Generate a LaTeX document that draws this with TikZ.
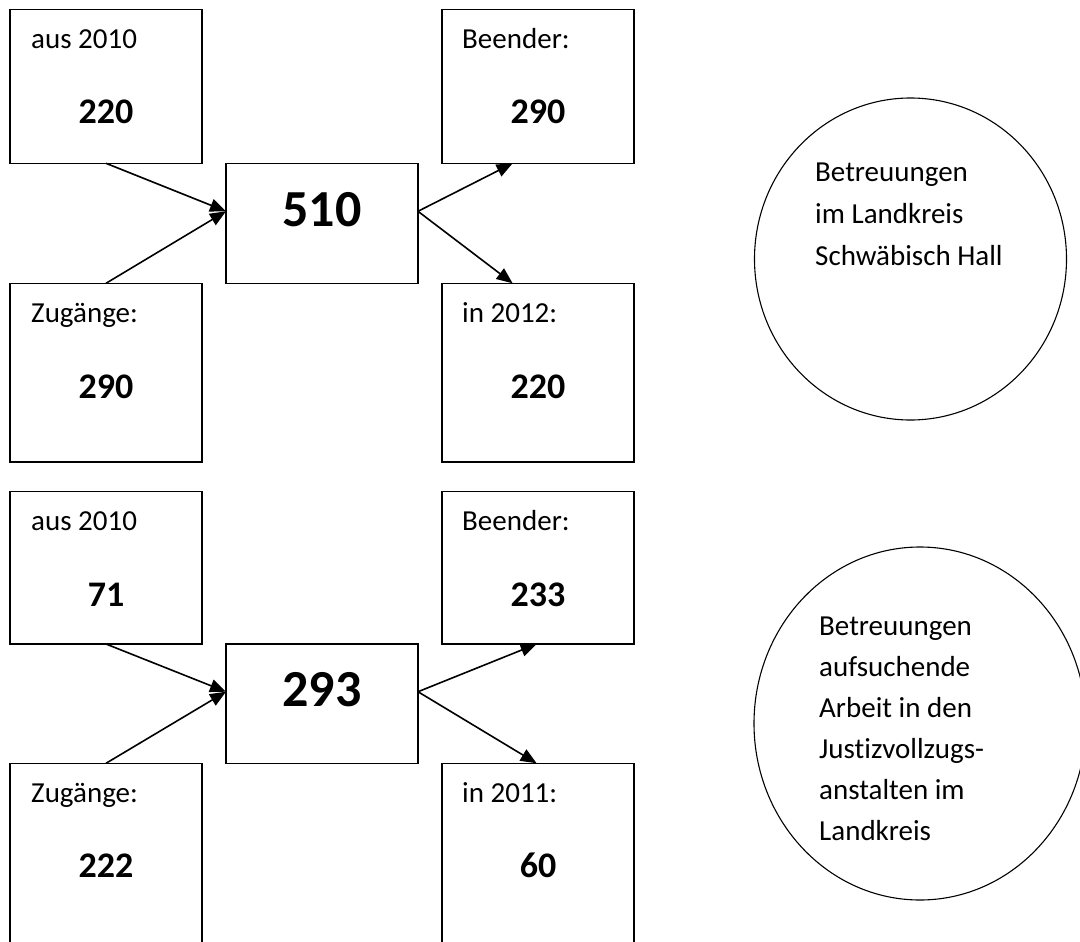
\documentclass[tikz,border=0pt]{standalone}
\usepackage{fontspec}
\setmainfont{Carlito}[Ligatures={NoCommon}]
\usetikzlibrary{arrows.meta,calc,shapes.geometric}
\begin{document}
\begin{tikzpicture}[x=1pt,y=-1pt,
  box/.style={draw, line width=1.5pt, inner sep=0pt, outer sep=0pt, minimum width=192pt, anchor=north west},
  lbl/.style={anchor=base west, inner sep=0pt, font=\fontsize{29}{35}\selectfont},
  num/.style={anchor=base, inner sep=0pt, font=\fontsize{36}{43}\selectfont\bfseries},
  big/.style={anchor=base, inner sep=0pt, font=\fontsize{52}{62}\selectfont\bfseries},
  arr/.style={line width=1.6pt, -{Triangle[length=16pt,width=13pt]}},
  ring/.style={draw, ellipse, line width=1.1pt, inner sep=0pt, outer sep=0pt},
  ctext/.style={anchor=base west, inner sep=0pt, font=\fontsize{29}{42}\selectfont}]
\useasboundingbox (0,0) rectangle (1080,942);
\clip (0,0) rectangle (1080,942);

% ---------- group 1 ----------
\node[box, minimum height=154pt] (tl1) at (10,9.3) {};
\node[box, minimum height=154pt] (tr1) at (442,9.3) {};
\node[box, minimum height=120pt] (c1) at (226,163.3) {};
\node[box, minimum height=178.7pt] (bl1) at (10,283.3) {};
\node[box, minimum height=178.7pt] (br1) at (442,283.3) {};

\node[lbl] (tl1l) at (31,48.3) {aus 2010};
\node[num] (tl1n) at (106,124) {220};
\node[lbl] (tr1l) at (462,48.3) {Beender:};
\node[num] (tr1n) at (538,124) {290};
\node[big] (c1n) at (322,226) {510};
\node[lbl] (bl1l) at (31,322) {Zugänge:};
\node[num] (bl1n) at (106,398) {290};
\node[lbl] (br1l) at (462,322) {in 2012:};
\node[num] (br1n) at (538,398) {220};

\coordinate (c1in) at ($(c1.north west)!0.4!(c1.south west)$);
\coordinate (c1out) at ($(c1.north east)!0.4!(c1.south east)$);
\coordinate (tr1in) at ($(tr1.south west)!0.368!(tr1.south east)$);
\coordinate (br1in) at ($(br1.north west)!0.368!(br1.north east)$);
\draw[arr] (tl1.south) -- (c1in);
\draw[arr] (bl1.north) -- (c1in);
\draw[arr] (c1out) -- (tr1in);
\draw[arr] (c1out) -- (br1in);

% ---------- group 2 ----------
\node[box, minimum height=152.3pt] (tl2) at (10,491.7) {};
\node[box, minimum height=152.3pt] (tr2) at (442,491.7) {};
\node[box, minimum height=119.3pt] (c2) at (226,644) {};
\node[box, minimum height=220pt] (bl2) at (10,763.3) {};
\node[box, minimum height=220pt] (br2) at (442,763.3) {};

\node[lbl] (tl2l) at (31,530.5) {aus 2010};
\node[num] (tl2n) at (106,606.5) {71};
\node[lbl] (tr2l) at (462,530.5) {Beender:};
\node[num] (tr2n) at (538,606.5) {233};
\node[big] (c2n) at (322,706) {293};
\node[lbl] (bl2l) at (31,802.5) {Zugänge:};
\node[num] (bl2n) at (106,877.5) {222};
\node[lbl] (br2l) at (462,802.5) {in 2011:};
\node[num] (br2n) at (538,877.5) {60};

\coordinate (c2in) at ($(c2.north west)!0.4!(c2.south west)$);
\coordinate (c2out) at ($(c2.north east)!0.4!(c2.south east)$);
\coordinate (tr2in) at ($(tr2.south west)!0.493!(tr2.south east)$);
\coordinate (br2in) at ($(br2.north west)!0.493!(br2.north east)$);
\draw[arr] (tl2.south) -- (c2in);
\draw[arr] (bl2.north) -- (c2in);
\draw[arr] (c2out) -- (tr2in);
\draw[arr] (c2out) -- (br2in);

% ---------- circles ----------
\node[ring, minimum width=312pt, minimum height=322pt] (e1) at (910.5,259) {};
\node[ctext] (e1a) at (815,181.7) {Betreuungen};
\node[ctext] (e1b) at (815,223.5) {im Landkreis};
\node[ctext] (e1c) at (815,265) {Schwäbisch Hall};

\node[ring, minimum width=332pt, minimum height=353pt] (e2) at (920,723.5) {};
\node[ctext] (e2a) at (819,635) {Betreuungen};
\node[ctext] (e2b) at (819,676) {aufsuchende};
\node[ctext] (e2c) at (819,717) {Arbeit in den};
\node[ctext] (e2d) at (819,758) {Justizvollzugs-};
\node[ctext] (e2e) at (819,799) {anstalten im};
\node[ctext] (e2f) at (819,840) {Landkreis};
\end{tikzpicture}
\end{document}
